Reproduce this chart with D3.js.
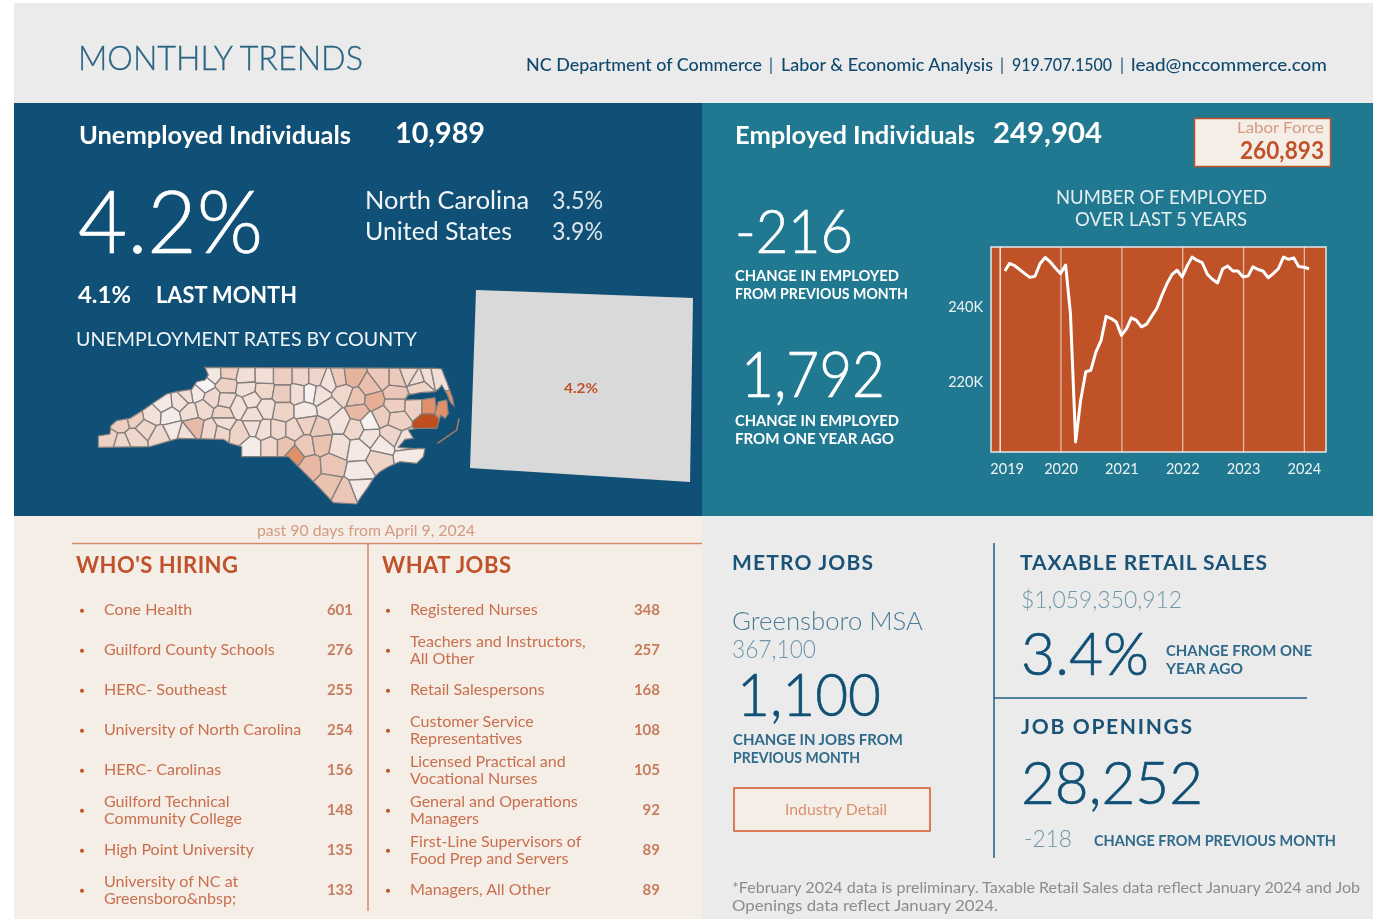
<!DOCTYPE html>
<html>
<head>
<meta charset="utf-8">
<title>Monthly Trends</title>
<script src="https://cdn.jsdelivr.net/npm/d3@7"></script>
<style>
  html, body { margin: 0; background: #fff; }
  svg { display: block; filter: blur(0.55px); }
  text { font-family: Lato, "Open Sans", sans-serif; }
</style>
</head>
<body>
<div id="chart"></div>
<script>
// Employed, thousands, monthly Feb 2019 - Feb 2024
const employed = [249.6, 251.6, 251.0, 250.0, 248.9, 247.9, 248.2, 251.6, 253.2, 252.0, 250.4,
  248.9, 251.2, 238.2, 204.0, 215.1, 222.7, 223.1, 228.0, 231.1, 237.5, 236.9, 236.0,
  232.4, 234.2, 237.1, 236.4, 234.7, 235.4, 237.5, 239.6, 243.1, 246.2, 248.7, 249.8,
  248.0, 251.1, 253.3, 252.4, 251.8, 248.7, 247.4, 246.4, 250.2, 250.9, 249.6, 249.6,
  248.0, 248.3, 250.7, 250.0, 249.6, 247.8, 248.9, 250.2, 253.3, 252.7, 253.1, 250.8,
  250.6, 250.2];
const yearTicks = [2019, 2020, 2021, 2022, 2023, 2024];
const employedTicks = [220, 240];

const hiringNames = [["Cone Health"], ["Guilford County Schools"], ["HERC- Southeast"],
  ["University of North Carolina"], ["HERC- Carolinas"], ["Guilford Technical", "Community College"],
  ["High Point University"], ["University of NC at", "Greensboro&nbsp;"]];
const hiringCounts = [601, 276, 255, 254, 156, 148, 135, 133];
const jobNames = [["Registered Nurses"], ["Teachers and Instructors,", "All Other"], ["Retail Salespersons"],
  ["Customer Service", "Representatives"], ["Licensed Practical and", "Vocational Nurses"],
  ["General and Operations", "Managers"], ["First-Line Supervisors of", "Food Prep and Servers"],
  ["Managers, All Other"]];
const jobCounts = [348, 257, 168, 108, 105, 92, 89, 89];

// county centres on the source map grid, with unemployment rate
const counties = [
  [400,70,3.0],[445,68,4.0],[498,80,3.3],[553,80,3.3],[608,80,4.0],[665,80,3.7],[708,80,3.7],[747,95,3.2],
  [778,85,4.3],[815,80,5.2],[905,85,4.3],[870,112,4.7],[950,85,4.2],[985,72,3.6],[1015,90,3.4],[1045,80,3.3],
  [1070,75,3.3],[1020,108,3.8],[372,105,2.5],[440,105,3.9],[500,115,3.3],[552,120,3.6],[608,130,4.1],
  [655,130,3.3],[690,130,2.6],[720,135,3.2],[790,130,3.6],[830,145,4.5],[880,150,5.4],[945,130,4.4],
  [945,165,4.0],[1005,168,3.9],[1047,168,6.4],[1090,178,6.4],[1045,215,9.5],[950,208,3.9],[905,200,4.1],
  [835,185,5.0],[745,175,3.2],[675,185,2.9],[608,185,3.8],[555,175,3.3],[515,150,3.2],[475,170,3.2],
  [438,152,3.5],[395,145,3.5],[350,130,2.9],[320,135,3.3],[300,155,3.2],[250,160,2.9],[270,198,2.8],
  [370,175,3.5],[330,185,3.3],[430,190,3.8],[520,195,3.3],[430,218,3.3],[420,245,3.7],[395,240,3.6],
  [340,230,4.9],[315,250,3.3],[280,240,2.9],[240,260,3.6],[215,195,3.2],[195,235,3.6],[165,205,4.0],
  [165,265,3.6],[120,215,4.0],[85,270,3.9],[125,282,3.6],[480,250,3.8],[520,230,3.2],[550,240,3.3],
  [595,240,3.6],[640,240,3.6],[680,220,3.9],[720,235,4.2],[780,215,3.1],[825,235,3.6],[868,218,2.6],
  [870,260,3.1],[930,255,3.7],[905,285,2.9],[980,278,3.2],[985,320,2.9],[895,330,3.8],[515,290,2.8],
  [570,290,3.6],[615,290,4.6],[642,315,6.4],[675,288,4.2],[725,280,4.6],[778,290,3.3],[835,300,2.9],
  [690,350,5.0],[755,345,4.4],[840,365,2.9],[745,405,4.6],[795,430,4.4],[842,412,2.9]
];
const stateOutline = [[375,52],[1070,55],[1085,57],[1100,95],[1118,145],[1122,168],[1112,158],[1100,130],[1085,105],
  [1078,115],[1065,125],[1020,128],[985,135],[975,150],[1030,148],[1065,143],[1068,180],[1075,155],[1100,150],
  [1105,190],[1095,205],[1082,195],[1070,235],[1010,235],[985,240],[1000,265],[975,268],[955,292],[1000,296],
  [1035,295],[1030,320],[1010,340],[960,335],[925,350],[900,365],[880,385],[865,410],[840,445],[830,462],
  [760,458],[715,410],[625,320],[485,320],[485,290],[450,280],[430,268],[295,265],[210,290],[55,292],[55,258],
  [90,252],[92,228],[110,212],[150,205],[190,180],[225,155],[260,132],[290,125],[335,118],[350,95],[375,90],[385,75]];
const outerBanks = [[1137,205],[1130,240],[1072,280]];

const navy = "#115076", teal = "#217891", rust = "#c0522a", sand = "#f4eee7", pale = "#ebebeb";
const midBlue = "#2f6a8a", paleBlue = "#6f96ab";

const svg = d3.select("#chart").append("svg").attr("width", 1373).attr("height", 919);

function panel(x, y, w, h, fill) {
  svg.append("rect").attr("x", x).attr("y", y).attr("width", w).attr("height", h).attr("fill", fill);
}
panel(14, 3, 1359, 100, pale);
panel(14, 103, 688, 413, navy);
panel(702, 103, 671, 413, teal);
panel(14, 516, 688, 403, sand);
panel(702, 516, 671, 403, pale);

// x0..x1 is the width the text has in the reference
function label(str, x0, x1, y, size, color, weight = 400) {
  return svg.append("text").attr("x", x0).attr("y", y)
    .attr("font-size", size).attr("fill", color).attr("font-weight", weight)
    .attr("textLength", x1 - x0).attr("lengthAdjust", "spacingAndGlyphs")
    .text(str);
}
// big light numbers are a touch heavier in the reference
function bigLabel(str, x0, x1, y, size, color) {
  return label(str, x0, x1, y, size, color, 300).attr("stroke", color).attr("stroke-width", 0.7);
}
function heading(str, x0, x1, y, size, color) {
  return label(str, x0, x1, y, size, color, 700).attr("lengthAdjust", "spacing");
}
function rule(x1, y1, x2, y2, color, w = 1.5) {
  svg.append("line").attr("x1", x1).attr("y1", y1).attr("x2", x2).attr("y2", y2)
    .attr("stroke", color).attr("stroke-width", w);
}

// header
label("MONTHLY TRENDS", 78, 363, 70, 33, "#2c6684", 300).attr("stroke", "#2c6684").attr("stroke-width", 0.3);
const contactColor = "#0f4a6e";
label("NC Department of Commerce", 526, 762, 71, 17, contactColor, 500);
label("|", 769, 773, 71, 17, contactColor);
label("Labor & Economic Analysis", 781, 993, 71, 17, contactColor, 500);
label("|", 1000, 1004, 71, 17, contactColor);
label("919.707.1500", 1012, 1112, 71, 17, contactColor, 500);
label("|", 1120, 1124, 71, 17, contactColor);
label("lead@nccommerce.com", 1131, 1327, 71, 17, contactColor, 500);

// unemployed panel
label("Unemployed Individuals", 79, 351, 144, 24, "#fff", 700);
label("10,989", 395, 485, 143, 29, "#fff", 700);
bigLabel("4.2%", 78, 263, 253, 87, "#fff");
label("North Carolina", 365, 529, 209, 25, "#f0f4f6");
label("3.5%", 552, 603, 209, 25, "#dbe5ea");
label("United States", 365, 512, 240, 25, "#f0f4f6");
label("3.9%", 552, 603, 240, 25, "#dbe5ea");
label("4.1%", 78, 131, 303, 23, "#fff", 700);
label("LAST MONTH", 156, 297, 303, 23, "#fff", 700);
label("UNEMPLOYMENT RATES BY COUNTY", 76, 346, 346, 20, "#f0f4f6").attr("textLength", 341);

// county map
const mapX = d3.scaleLinear().domain([0, 1200]).range([80, 480]);
const mapY = d3.scaleLinear().domain([0, 495]).range([350, 515]);
const rateColor = d3.scaleLinear().domain([2.5, 3.5, 5, 6.5, 9.5])
  .range(["#f6f4f3", "#f0d9cf", "#e7b9a5", "#df8e68", "#c04f1f"]);

const outlinePath = d3.line().x(d => mapX(d[0])).y(d => mapY(d[1])).curve(d3.curveLinearClosed);
svg.append("clipPath").attr("id", "nc").append("path").attr("d", outlinePath(stateOutline));

const voronoi = d3.Delaunay.from(counties, d => mapX(d[0]), d => mapY(d[1])).voronoi([80, 350, 480, 515]);
svg.append("g").attr("clip-path", "url(#nc)")
  .selectAll("path").data(counties).join("path")
  .attr("d", (d, i) => voronoi.renderCell(i))
  .attr("fill", d => rateColor(d[2]))
  .attr("stroke", "#85807e").attr("stroke-width", 1.3);
svg.append("path").attr("d", outlinePath(stateOutline))
  .attr("fill", "none").attr("stroke", "#85807e").attr("stroke-width", 1.2);
svg.append("path").attr("d", d3.line().x(d => mapX(d[0])).y(d => mapY(d[1]))(outerBanks))
  .attr("fill", "none").attr("stroke", "#a87a62").attr("stroke-width", 1.5);

// placeholder tile beside the map
svg.append("polygon").attr("points", "476,290 693,298 690,482 470,468").attr("fill", "#d9d9d9");
label("4.2%", 564, 598, 393, 14, rust, 700);

// employed panel
label("Employed Individuals", 735, 975, 144, 24, "#fff", 700);
label("249,904", 993, 1102, 143, 29, "#fff", 700);
svg.append("rect").attr("x", 1194.5).attr("y", 118.5).attr("width", 136).attr("height", 48)
  .attr("fill", sand).attr("stroke", rust).attr("stroke-width", 1.5);
label("Labor Force", 1237, 1324, 133, 15, "#d59a82");
label("260,893", 1240, 1324, 159, 25, rust, 700);
label("NUMBER OF EMPLOYED", 1056, 1267, 204, 19, "#e6eef1");
label("OVER LAST 5 YEARS", 1075, 1247, 226, 19, "#e6eef1");
bigLabel("-216", 735, 853, 253, 62, "#fff");
label("CHANGE IN EMPLOYED", 735, 899, 281, 15, "#fff", 700);
label("FROM PREVIOUS MONTH", 735, 908, 299, 15, "#fff", 700);
bigLabel("1,792", 741, 885, 397, 63, "#fff");
label("CHANGE IN EMPLOYED", 735, 899, 426, 15, "#fff", 700);
label("FROM ONE YEAR AGO", 735, 894, 444, 15, "#fff", 700);

// employment line chart
const plot = { left: 991, right: 1326, top: 247, bottom: 452 };
const months = employed.map((d, i) => new Date(2019, 1 + i, 1));
const x = d3.scaleTime().domain([new Date(2018, 10, 10), new Date(2024, 4, 13)]).range([plot.left, plot.right]);
const y = d3.scaleLinear().domain([201.3, 256]).range([plot.bottom, plot.top]);

svg.append("rect").attr("x", plot.left).attr("y", plot.top)
  .attr("width", plot.right - plot.left).attr("height", plot.bottom - plot.top)
  .attr("fill", "#bf5227").attr("stroke", "#e4e9ea").attr("stroke-width", 1.5);

const yearDates = yearTicks.map(d => new Date(d, 0, 1));
const xAxis = svg.append("g").attr("transform", `translate(0,${plot.bottom})`)
  .call(d3.axisBottom(x).tickValues(yearDates).tickFormat(d3.timeFormat("%Y")).tickSize(-(plot.bottom - plot.top)).tickPadding(12));
xAxis.select(".domain").remove();
xAxis.selectAll(".tick line").attr("stroke", "#fff").attr("stroke-opacity", (d, i) => i ? 0.6 : 1).attr("stroke-width", 1.3);
xAxis.selectAll("text").attr("fill", "#eef3f5").attr("font-size", 14.5)
  .attr("dx", (d, i) => i ? 0 : 7);

const yAxis = svg.append("g").attr("transform", `translate(${plot.left},0)`)
  .call(d3.axisLeft(y).tickValues(employedTicks).tickFormat(d => d + "K").tickSize(0).tickPadding(8));
yAxis.select(".domain").remove();
yAxis.selectAll("text").attr("fill", "#eef3f5").attr("font-size", 14.5);

svg.append("path").datum(employed)
  .attr("d", d3.line().x((d, i) => x(months[i])).y(d => y(d)))
  .attr("fill", "none").attr("stroke", "#fff").attr("stroke-width", 3).attr("stroke-linejoin", "round");

// who's hiring / what jobs
label("past 90 days from April 9, 2024", 257, 475, 536, 15, "#d59a82");
rule(72, 543.5, 702, 543.5, "#d58a68");
rule(368, 543, 368, 911, "#d58a68");
heading("WHO'S HIRING", 76, 238, 573, 22, rust);
heading("WHAT JOBS", 382, 511, 573, 22, rust);

const rowY = d3.scaleBand().domain(d3.range(8)).range([589.7, 909.7]);

function drawList(names, counts, bulletX, textX, valueX) {
  const g = svg.append("g");
  names.forEach((lines, i) => {
    const cy = rowY(i) + rowY.bandwidth() / 2;
    g.append("circle").attr("cx", bulletX).attr("cy", cy + 1).attr("r", 2).attr("fill", rust);
    lines.forEach((line, j) => {
      const t = g.append("text").attr("x", textX)
        .attr("y", lines.length > 1 ? cy - 3 + j * 17 : cy + 5)
        .attr("font-size", 15).attr("fill", "#c96f4e").text(line);
      // the original face is wider than anything installed
      t.attr("textLength", t.node().getComputedTextLength() * 1.07).attr("lengthAdjust", "spacingAndGlyphs");
    });
    g.append("text").attr("x", valueX).attr("y", cy + 5).attr("text-anchor", "end")
      .attr("font-size", 15).attr("font-weight", 700).attr("fill", "#c67c5f").text(counts[i]);
  });
}
drawList(hiringNames, hiringCounts, 82, 104, 353);
drawList(jobNames, jobCounts, 388, 410, 660);

// metro jobs
heading("METRO JOBS", 732, 873, 570, 21, "#1a5278");
label("Greensboro MSA", 732, 923, 630, 25, "#4a7d96", 300);
label("367,100", 732, 816, 658, 25, paleBlue, 300);
bigLabel("1,100", 737, 881, 716, 60, navy);
label("CHANGE IN JOBS FROM", 733, 903, 745, 15, midBlue, 700);
label("PREVIOUS MONTH", 733, 860, 763, 15, midBlue, 700);
svg.append("rect").attr("x", 734).attr("y", 788).attr("width", 196).attr("height", 43)
  .attr("fill", sand).attr("stroke", "#d4572a").attr("stroke-width", 1.5);
label("Industry Detail", 785, 887, 815, 15, "#d98f70");

// retail sales and job openings
rule(994, 543, 994, 858, "#1f5f85");
rule(994, 698, 1307, 698, "#1f5f85");
heading("TAXABLE RETAIL SALES", 1020, 1267, 570, 21, "#1a5278");
label("$1,059,350,912", 1021, 1182, 608, 24, paleBlue, 300);
bigLabel("3.4%", 1021, 1149, 675, 60, navy);
label("CHANGE FROM ONE", 1166, 1312, 656, 15, midBlue, 700);
label("YEAR AGO", 1166, 1243, 674, 15, midBlue, 700);
heading("JOB OPENINGS", 1021, 1192, 734, 21, "#1a5278");
bigLabel("28,252", 1021, 1203, 804, 60, navy);
label("-218", 1024, 1072, 847, 24, paleBlue, 300);
label("CHANGE FROM PREVIOUS MONTH", 1094, 1336, 846, 15, midBlue, 700);

// footnote
label("*February 2024 data is preliminary. Taxable Retail Sales data reflect January 2024 and Job", 732, 1360, 893, 15, "#8c8c8c");
label("Openings data reflect January 2024.", 732, 998, 911, 15, "#8c8c8c");
</script>
</body>
</html>
